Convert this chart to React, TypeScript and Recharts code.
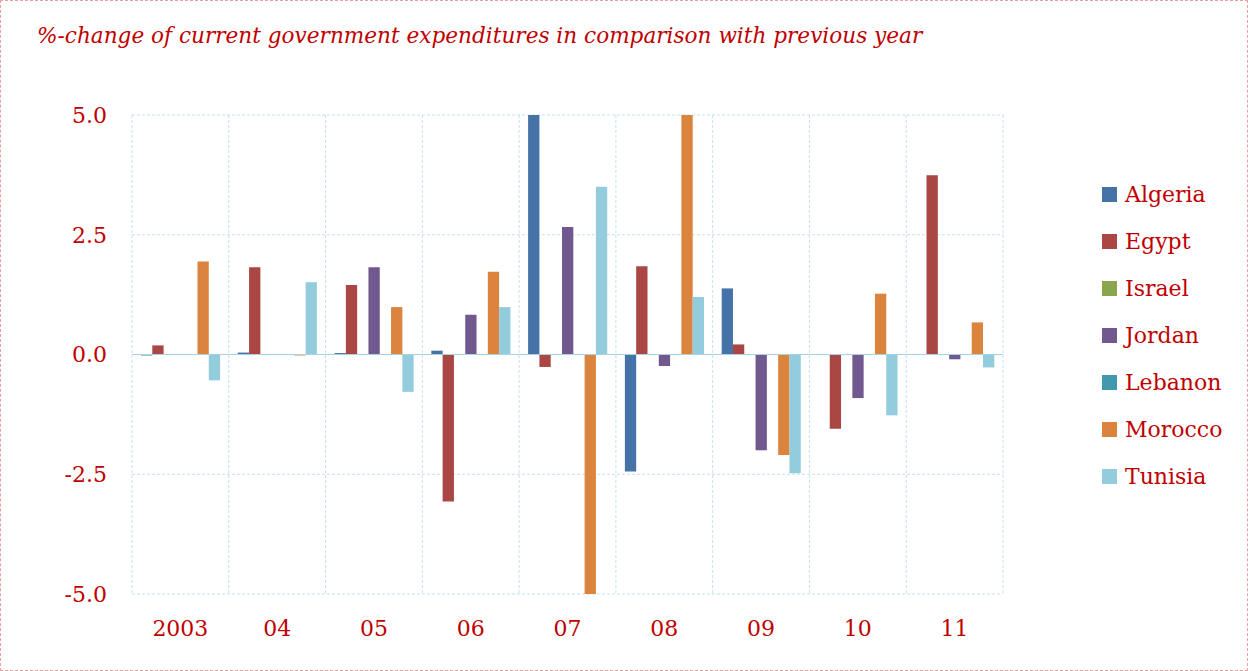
import { BarChart, Bar, XAxis, YAxis, CartesianGrid, ReferenceLine } from 'recharts'

const years = ['2003', '04', '05', '06', '07', '08', '09', '10', '11']
const algeria = [-0.02, 0.04, 0.03, 0.08, 5.0, -2.44, 1.38, null, null]
const egypt = [0.19, 1.82, 1.45, -3.07, -0.26, 1.84, 0.21, -1.55, 3.74]
const israel = [null, null, null, null, null, null, null, null, null]
const jordan = [null, null, 1.82, 0.83, 2.66, -0.24, -2.0, -0.91, -0.1]
const lebanon = [null, null, null, null, null, null, null, null, null]
const morocco = [1.94, -0.02, 0.99, 1.73, -5.05, 5.0, -2.1, 1.27, 0.67]
const tunisia = [-0.54, 1.51, -0.78, 0.99, 3.5, 1.2, -2.48, -1.27, -0.27]
const yTicks = [-5, -2.5, 0, 2.5, 5]

const series = [
  { key: 'Algeria', color: '#4572A7' },
  { key: 'Egypt', color: '#AA4643' },
  { key: 'Israel', color: '#89A54E' },
  { key: 'Jordan', color: '#71588F' },
  { key: 'Lebanon', color: '#4198AF' },
  { key: 'Morocco', color: '#DB843D' },
  { key: 'Tunisia', color: '#93CDDD' },
]

const RED = '#C00000'
const FONT = '"DejaVu Serif", serif'

const chartData = years.map((year, i) => ({
  year,
  Algeria: algeria[i],
  Egypt: egypt[i],
  Israel: israel[i],
  Jordan: jordan[i],
  Lebanon: lebanon[i],
  Morocco: morocco[i],
  Tunisia: tunisia[i],
}))

function LegendList() {
  return (
    <div style={{ position: 'absolute', left: 1101, top: 170, fontFamily: FONT }}>
      {series.map(s => (
        <div key={s.key} style={{ display: 'flex', alignItems: 'center', height: 47 }}>
          <span style={{ width: 15, height: 15, background: s.color, display: 'inline-block', marginRight: 8 }} />
          <span style={{ color: RED, fontSize: 22 }}>{s.key}</span>
        </div>
      ))}
    </div>
  )
}

export default function App() {
  return (
    <div style={{ position: 'absolute', left: 0, top: 0, width: 1248, height: 671, boxSizing: 'border-box', border: '1px dashed #eaa0a0', background: '#fff' }}>
      <div style={{ position: 'absolute', left: 36, top: 22, fontFamily: FONT, fontStyle: 'italic', fontSize: 21.6, color: RED, whiteSpace: 'nowrap' }}>
        %-change of current government expenditures in comparison with previous year
      </div>
      <div style={{ position: 'absolute', left: -1, top: -1 }}>
        <BarChart
          width={1248}
          height={671}
          data={chartData}
          margin={{ top: 115, right: 245, bottom: 47, left: 0 }}
          barSize={11.3}
          barGap={0}
        >
          <CartesianGrid
            stroke="#c4e2ec"
            strokeDasharray="3 2"
            verticalCoordinatesGenerator={({ offset }: any) =>
              Array.from({ length: years.length + 1 }, (_, i) => offset.left + (i * offset.width) / years.length)
            }
          />
          <XAxis
            dataKey="year"
            height={30}
            axisLine={false}
            tickLine={false}
            tickSize={0}
            tickMargin={26}
            tick={{ fill: RED, fontSize: 22, fontFamily: FONT }}
            interval={0}
          />
          <YAxis
            width={132}
            domain={[-5, 5]}
            ticks={yTicks}
            interval={0}
            allowDataOverflow
            axisLine={false}
            tickLine={false}
            tickSize={0}
            tickMargin={25}
            tickFormatter={(v: number) => v.toFixed(1)}
            tick={{ fill: RED, fontSize: 22, fontFamily: FONT }}
          />
          <ReferenceLine y={0} stroke="#a8d2e0" />
          {series.map(s => (
            <Bar key={s.key} dataKey={s.key} fill={s.color} isAnimationActive={false} />
          ))}
        </BarChart>
      </div>
      <LegendList />
    </div>
  )
}
